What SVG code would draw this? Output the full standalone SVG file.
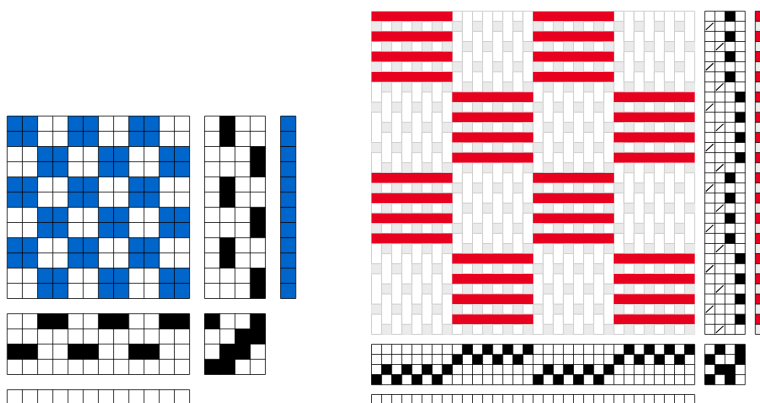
<svg xmlns="http://www.w3.org/2000/svg" width="760" height="403" viewBox="0 0 760 403">
<style>
.g{fill:none;stroke:#000;stroke-opacity:.72;stroke-width:1;vector-effect:non-scaling-stroke}
.b{fill:#0066cc}
.k{fill:#000}
.r{fill:#e8001f;stroke:#e8001f;stroke-opacity:.35;stroke-width:.5;vector-effect:non-scaling-stroke}
.e{fill:#ebebeb;stroke:#e4e4e4;stroke-width:1;vector-effect:non-scaling-stroke}
.w{fill:#fff;stroke:#d2d2d2;stroke-width:1;vector-effect:non-scaling-stroke}
.s{fill:none;stroke:#222;stroke-width:1.2;vector-effect:non-scaling-stroke}
</style>
<defs>
<path id="s3" class="w" d="M0 3H1V4H0ZM0 7H1V9H0ZM0 10H1V13H0ZM0 14H1V16H0ZM0 19H1V20H0ZM0 23H1V25H0ZM0 26H1V29H0ZM0 30H1V32H0Z"/>
<path id="s2" class="w" d="M0 1H1V2H0ZM0 5H1V6H0ZM0 8H1V11H0ZM0 12H1V15H0ZM0 17H1V18H0ZM0 21H1V22H0ZM0 24H1V27H0ZM0 28H1V31H0Z"/>
<path id="s1" class="w" d="M0 0H1V1H0ZM0 2H1V5H0ZM0 6H1V8H0ZM0 11H1V12H0ZM0 15H1V17H0ZM0 18H1V21H0ZM0 22H1V24H0ZM0 27H1V28H0ZM0 31H1V32H0Z"/>
<path id="s0" class="w" d="M0 0H1V3H0ZM0 4H1V7H0ZM0 9H1V10H0ZM0 13H1V14H0ZM0 16H1V19H0ZM0 20H1V23H0ZM0 25H1V26H0ZM0 29H1V30H0Z"/>
<path id="ge" class="e" d="M0 1h1v1h-1zM0 5h1v1h-1zM0 9h1v1h-1zM0 13h1v1h-1zM0 17h1v1h-1zM0 21h1v1h-1zM0 25h1v1h-1zM0 29h1v1h-1z"/>
<path id="go" class="e" d="M1 3h1v1h-1zM1 7h1v1h-1zM1 11h1v1h-1zM1 15h1v1h-1zM1 19h1v1h-1zM1 23h1v1h-1zM1 27h1v1h-1zM1 31h1v1h-1z"/>
</defs>

<g id="drawdown-small" transform="translate(7.2,116.1) scale(15.2)">
<path class="b" d="M0 0h2v2h-2zM4 0h2v2h-2zM8 0h2v2h-2zM2 2h2v2h-2zM6 2h2v2h-2zM10 2h2v2h-2zM0 4h2v2h-2zM4 4h2v2h-2zM8 4h2v2h-2zM2 6h2v2h-2zM6 6h2v2h-2zM10 6h2v2h-2zM0 8h2v2h-2zM4 8h2v2h-2zM8 8h2v2h-2zM2 10h2v2h-2zM6 10h2v2h-2zM10 10h2v2h-2z"/>
<path class="g" d="M0 0H12M0 1H12M0 2H12M0 3H12M0 4H12M0 5H12M0 6H12M0 7H12M0 8H12M0 9H12M0 10H12M0 11H12M0 12H12M0 0V12M1 0V12M2 0V12M3 0V12M4 0V12M5 0V12M6 0V12M7 0V12M8 0V12M9 0V12M10 0V12M11 0V12M12 0V12"/>
</g>
<g id="treadling-small" transform="translate(204.6,116.1) scale(15.2)">
<path class="k" d="M1 0h1v2h-1zM3 2h1v2h-1zM1 4h1v2h-1zM3 6h1v2h-1zM1 8h1v2h-1zM3 10h1v2h-1z"/>
<path class="g" d="M0 0H4M0 1H4M0 2H4M0 3H4M0 4H4M0 5H4M0 6H4M0 7H4M0 8H4M0 9H4M0 10H4M0 11H4M0 12H4M0 0V12M1 0V12M2 0V12M3 0V12M4 0V12"/>
</g>
<g id="weft-colours-small" transform="translate(280.6,116.1) scale(15.2)">
<path class="b" d="M0 0h1v12h-1z"/>
<path class="g" d="M0 0H1M0 1H1M0 2H1M0 3H1M0 4H1M0 5H1M0 6H1M0 7H1M0 8H1M0 9H1M0 10H1M0 11H1M0 12H1M0 0V12M1 0V12"/>
</g>
<g id="threading-small" transform="translate(7.2,313.7) scale(15.2)">
<path class="k" d="M2 0h2v1h-2zM6 0h2v1h-2zM10 0h2v1h-2zM0 2h2v1h-2zM4 2h2v1h-2zM8 2h2v1h-2z"/>
<path class="g" d="M0 0H12M0 1H12M0 2H12M0 3H12M0 4H12M0 0V4M1 0V4M2 0V4M3 0V4M4 0V4M5 0V4M6 0V4M7 0V4M8 0V4M9 0V4M10 0V4M11 0V4M12 0V4"/>
</g>
<g id="tieup-small" transform="translate(204.6,313.7) scale(15.2)">
<path class="k" d="M0 0h1v1h-1zM3 0h1v1h-1zM2 1h2v1h-2zM1 2h2v1h-2zM0 3h2v1h-2z"/>
<path class="g" d="M0 0H4M0 1H4M0 2H4M0 3H4M0 4H4M0 0V4M1 0V4M2 0V4M3 0V4M4 0V4"/>
</g>
<g id="warp-colours-small" transform="translate(7.2,389.7) scale(15.2)">
<path class="g" d="M0 0H12M0 0V2M1 0V2M2 0V2M3 0V2M4 0V2M5 0V2M6 0V2M7 0V2M8 0V2M9 0V2M10 0V2M11 0V2M12 0V2"/>
</g>

<g id="drawdown-large" transform="translate(371.5,11.2) scale(10.1)">
<g id="weft-ground">
<use href="#ge" x="0"/><use href="#go" x="0"/><use href="#ge" x="2"/><use href="#go" x="2"/><use href="#ge" x="4"/><use href="#go" x="4"/><use href="#ge" x="6"/><use href="#go" x="6"/>
<use href="#ge" x="8"/><use href="#go" x="8"/><use href="#ge" x="10"/><use href="#go" x="10"/><use href="#ge" x="12"/><use href="#go" x="12"/><use href="#ge" x="14"/><use href="#go" x="14"/>
<use href="#ge" x="16"/><use href="#go" x="16"/><use href="#ge" x="18"/><use href="#go" x="18"/><use href="#ge" x="20"/><use href="#go" x="20"/><use href="#ge" x="22"/><use href="#go" x="22"/>
<use href="#ge" x="24"/><use href="#go" x="24"/><use href="#ge" x="26"/><use href="#go" x="26"/><use href="#ge" x="28"/><use href="#go" x="28"/><use href="#ge" x="30"/><use href="#go" x="30"/>
</g>
<g id="warp-floats">
<use href="#s3" x="0"/><use href="#s2" x="1"/><use href="#s3" x="2"/><use href="#s2" x="3"/><use href="#s3" x="4"/><use href="#s2" x="5"/><use href="#s3" x="6"/><use href="#s2" x="7"/>
<use href="#s1" x="8"/><use href="#s0" x="9"/><use href="#s1" x="10"/><use href="#s0" x="11"/><use href="#s1" x="12"/><use href="#s0" x="13"/><use href="#s1" x="14"/><use href="#s0" x="15"/>
<use href="#s3" x="16"/><use href="#s2" x="17"/><use href="#s3" x="18"/><use href="#s2" x="19"/><use href="#s3" x="20"/><use href="#s2" x="21"/><use href="#s3" x="22"/><use href="#s2" x="23"/>
<use href="#s1" x="24"/><use href="#s0" x="25"/><use href="#s1" x="26"/><use href="#s0" x="27"/><use href="#s1" x="28"/><use href="#s0" x="29"/><use href="#s1" x="30"/><use href="#s0" x="31"/>
</g>
<path id="weft-floats" class="r" d="M0 .02h8v.96h-8zM0 2.02h8v.96h-8zM0 4.02h8v.96h-8zM0 6.02h8v.96h-8zM16 .02h8v.96h-8zM16 2.02h8v.96h-8zM16 4.02h8v.96h-8zM16 6.02h8v.96h-8zM8 8.02h8v.96h-8zM8 10.02h8v.96h-8zM8 12.02h8v.96h-8zM8 14.02h8v.96h-8zM24 8.02h8v.96h-8zM24 10.02h8v.96h-8zM24 12.02h8v.96h-8zM24 14.02h8v.96h-8zM0 16.02h8v.96h-8zM0 18.02h8v.96h-8zM0 20.02h8v.96h-8zM0 22.02h8v.96h-8zM16 16.02h8v.96h-8zM16 18.02h8v.96h-8zM16 20.02h8v.96h-8zM16 22.02h8v.96h-8zM8 24.02h8v.96h-8zM8 26.02h8v.96h-8zM8 28.02h8v.96h-8zM8 30.02h8v.96h-8zM24 24.02h8v.96h-8zM24 26.02h8v.96h-8zM24 28.02h8v.96h-8zM24 30.02h8v.96h-8z"/>
</g>

<g id="treadling-large" transform="translate(704.8,11.2) scale(10.1)">
<path class="k" d="M2 0h1v1h-1zM2 2h1v1h-1zM2 4h1v1h-1zM2 6h1v1h-1zM3 8h1v1h-1zM3 10h1v1h-1zM3 12h1v1h-1zM3 14h1v1h-1zM2 16h1v1h-1zM2 18h1v1h-1zM2 20h1v1h-1zM2 22h1v1h-1zM3 24h1v1h-1zM3 26h1v1h-1zM3 28h1v1h-1zM3 30h1v1h-1z"/>
<path class="s" d="M.1 1.85l.75-.7M1.1 3.85l.75-.7M.1 5.85l.75-.7M1.1 7.85l.75-.7M.1 9.85l.75-.7M1.1 11.85l.75-.7M.1 13.85l.75-.7M1.1 15.85l.75-.7M.1 17.85l.75-.7M1.1 19.85l.75-.7M.1 21.85l.75-.7M1.1 23.85l.75-.7M.1 25.85l.75-.7M1.1 27.85l.75-.7M.1 29.85l.75-.7M1.1 31.85l.75-.7"/>
<path class="g" d="M0 0H4M0 1H4M0 2H4M0 3H4M0 4H4M0 5H4M0 6H4M0 7H4M0 8H4M0 9H4M0 10H4M0 11H4M0 12H4M0 13H4M0 14H4M0 15H4M0 16H4M0 17H4M0 18H4M0 19H4M0 20H4M0 21H4M0 22H4M0 23H4M0 24H4M0 25H4M0 26H4M0 27H4M0 28H4M0 29H4M0 30H4M0 31H4M0 32H4M0 0V32M1 0V32M2 0V32M3 0V32M4 0V32"/>
</g>
<g id="weft-colours-large" transform="translate(755.3,11.2) scale(10.1)">
<path fill="#eee" d="M0 0h1v32h-1z"/>
<path fill="#e8001f" d="M0 0h1v1h-1zM0 2h1v1h-1zM0 4h1v1h-1zM0 6h1v1h-1zM0 8h1v1h-1zM0 10h1v1h-1zM0 12h1v1h-1zM0 14h1v1h-1zM0 16h1v1h-1zM0 18h1v1h-1zM0 20h1v1h-1zM0 22h1v1h-1zM0 24h1v1h-1zM0 26h1v1h-1zM0 28h1v1h-1zM0 30h1v1h-1z"/>
<path class="g" d="M0 0H1M0 1H1M0 2H1M0 3H1M0 4H1M0 5H1M0 6H1M0 7H1M0 8H1M0 9H1M0 10H1M0 11H1M0 12H1M0 13H1M0 14H1M0 15H1M0 16H1M0 17H1M0 18H1M0 19H1M0 20H1M0 21H1M0 22H1M0 23H1M0 24H1M0 25H1M0 26H1M0 27H1M0 28H1M0 29H1M0 30H1M0 31H1M0 32H1M0 0V32"/>
</g>
<g id="threading-large" transform="translate(371.5,344.3) scale(10.1)">
<path class="k" d="M0 3h1v1h-1zM2 3h1v1h-1zM4 3h1v1h-1zM6 3h1v1h-1zM16 3h1v1h-1zM18 3h1v1h-1zM20 3h1v1h-1zM22 3h1v1h-1zM1 2h1v1h-1zM3 2h1v1h-1zM5 2h1v1h-1zM7 2h1v1h-1zM17 2h1v1h-1zM19 2h1v1h-1zM21 2h1v1h-1zM23 2h1v1h-1zM8 1h1v1h-1zM10 1h1v1h-1zM12 1h1v1h-1zM14 1h1v1h-1zM24 1h1v1h-1zM26 1h1v1h-1zM28 1h1v1h-1zM30 1h1v1h-1zM9 0h1v1h-1zM11 0h1v1h-1zM13 0h1v1h-1zM15 0h1v1h-1zM25 0h1v1h-1zM27 0h1v1h-1zM29 0h1v1h-1zM31 0h1v1h-1z"/>
<path class="g" d="M0 0H32M0 1H32M0 2H32M0 3H32M0 4H32M0 0V4M1 0V4M2 0V4M3 0V4M4 0V4M5 0V4M6 0V4M7 0V4M8 0V4M9 0V4M10 0V4M11 0V4M12 0V4M13 0V4M14 0V4M15 0V4M16 0V4M17 0V4M18 0V4M19 0V4M20 0V4M21 0V4M22 0V4M23 0V4M24 0V4M25 0V4M26 0V4M27 0V4M28 0V4M29 0V4M30 0V4M31 0V4M32 0V4"/>
</g>
<g id="tieup-large" transform="translate(704.8,344.3) scale(10.1)">
<path class="k" d="M1 0h1v1h-1zM3 0h1v2h-1zM0 1h1v1h-1zM1 2h2v1h-2zM0 3h1v1h-1zM2 3h1v1h-1z"/>
<path class="g" d="M0 0H4M0 1H4M0 2H4M0 3H4M0 4H4M0 0V4M1 0V4M2 0V4M3 0V4M4 0V4"/>
</g>
<g id="warp-colours-large" transform="translate(371.5,394.5) scale(10.1)">
<path class="g" d="M0 0H32M0 0V2M1 0V2M2 0V2M3 0V2M4 0V2M5 0V2M6 0V2M7 0V2M8 0V2M9 0V2M10 0V2M11 0V2M12 0V2M13 0V2M14 0V2M15 0V2M16 0V2M17 0V2M18 0V2M19 0V2M20 0V2M21 0V2M22 0V2M23 0V2M24 0V2M25 0V2M26 0V2M27 0V2M28 0V2M29 0V2M30 0V2M31 0V2M32 0V2"/>
</g>
</svg>
